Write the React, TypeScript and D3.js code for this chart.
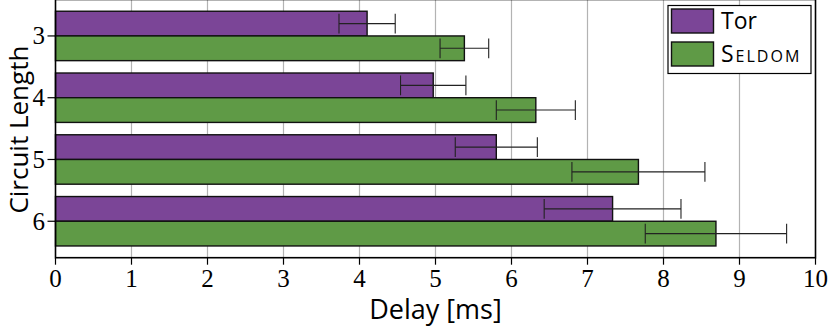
import React from "react";
import * as d3 from "d3";

const categories = [3, 4, 5, 6];
const seriesNames = ["Tor", "Seldom"];
const torMeans = [4.1, 4.97, 5.8, 7.33];
const torErr = [0.37, 0.43, 0.54, 0.9];
const seldomMeans = [5.38, 6.32, 7.67, 8.69];
const seldomErr = [0.32, 0.52, 0.875, 0.93];
const xTicks = [0, 1, 2, 3, 4, 5, 6, 7, 8, 9, 10];
const colors = ["#7b4597", "#5f9a46"];

const W = 829, H = 327;
const left = 55.5, right = 815.5, top = -0.5, bottom = 257.7;
const serif = "'Liberation Serif', 'DejaVu Serif', serif";
const sans = "'Open Sans', Lato, sans-serif";

export default function App() {
  const x = d3.scaleLinear().domain([0, 10]).range([left, right]);
  const y = d3.scaleBand<number>().domain(categories).range([top, bottom]).paddingInner(0.2).paddingOuter(0.19);
  const sub = d3.scaleBand<string>().domain(seriesNames).range([0, y.bandwidth()]);
  const series = [
    { name: "Tor", means: torMeans, err: torErr },
    { name: "Seldom", means: seldomMeans, err: seldomErr },
  ];
  const bh = sub.bandwidth();
  const capH = bh * 0.8;
  return (
    <svg width={W} height={H} style={{ position: "absolute", left: 0, top: 0 }}>
      {xTicks.slice(1, -1).map((t) => (
        <line key={"g" + t} x1={x(t)} x2={x(t)} y1={top} y2={bottom} stroke="#b3b3b3" strokeWidth={1.2} />
      ))}
      {series.map((s, si) =>
        categories.map((c, ci) => {
          const yy = (y(c) as number) + (sub(s.name) as number);
          return (
            <rect key={s.name + c} x={x(0)} y={yy} width={x(s.means[ci]) - x(0)} height={bh}
              fill={colors[si]} stroke="#111" strokeWidth={1.4} />
          );
        })
      )}
      {series.map((s, si) =>
        categories.map((c, ci) => {
          const yc = (y(c) as number) + (sub(s.name) as number) + bh / 2;
          const lo = x(s.means[ci] - s.err[ci]);
          const hi = x(s.means[ci] + s.err[ci]);
          return (
            <g key={"e" + s.name + c} stroke="#222" strokeWidth={1.1}>
              <line x1={lo} x2={hi} y1={yc} y2={yc} />
              <line x1={lo} x2={lo} y1={yc - capH / 2} y2={yc + capH / 2} />
              <line x1={hi} x2={hi} y1={yc - capH / 2} y2={yc + capH / 2} />
            </g>
          );
        })
      )}
      <rect x={left} y={top} width={right - left} height={bottom - top} fill="none" stroke="#000" strokeWidth={1.6} />
      {xTicks.map((t) => (
        <g key={"xt" + t}>
          <line x1={x(t)} x2={x(t)} y1={bottom} y2={bottom + 7} stroke="#000" strokeWidth={1.2} />
          <text x={x(t)} y={287} textAnchor="middle" fontFamily={serif} fontSize={25} fill="#000">{t}</text>
        </g>
      ))}
      {categories.map((c) => {
        const yc = (y(c) as number) + y.bandwidth() / 2;
        return (
          <g key={"yt" + c}>
            <line x1={left - 8} x2={left} y1={yc} y2={yc} stroke="#000" strokeWidth={1.2} />
            <text x={45} y={yc} dy="0.34em" textAnchor="end" fontFamily={serif} fontSize={25} fill="#000">{c}</text>
          </g>
        );
      })}
      <text x={(left + right) / 2} y={319} textAnchor="middle" fontFamily={sans} fontSize={27} fill="#000">Delay [ms]</text>
      <text transform={`translate(27.5,${(top + bottom) / 2 + 1}) rotate(-90)`} textAnchor="middle" fontFamily={sans} fontSize={26} fill="#000">Circuit Length</text>
      <g>
        <rect x={668} y={5.5} width={143} height={68} fill="#fff" stroke="#000" strokeWidth={1.2} />
        {series.map((s, si) => (
          <g key={"l" + s.name}>
            <rect x={671.5} y={9 + si * 33} width={42} height={24} fill={colors[si]} stroke="#111" strokeWidth={1.4} />
            <text x={721} y={29 + si * 33} fontFamily={sans} fontSize={23} fill="#000"
              style={{ fontVariant: si === 1 ? "small-caps" : "normal", letterSpacing: si === 1 ? "2px" : "0" }}>{s.name}</text>
          </g>
        ))}
      </g>
    </svg>
  );
}
